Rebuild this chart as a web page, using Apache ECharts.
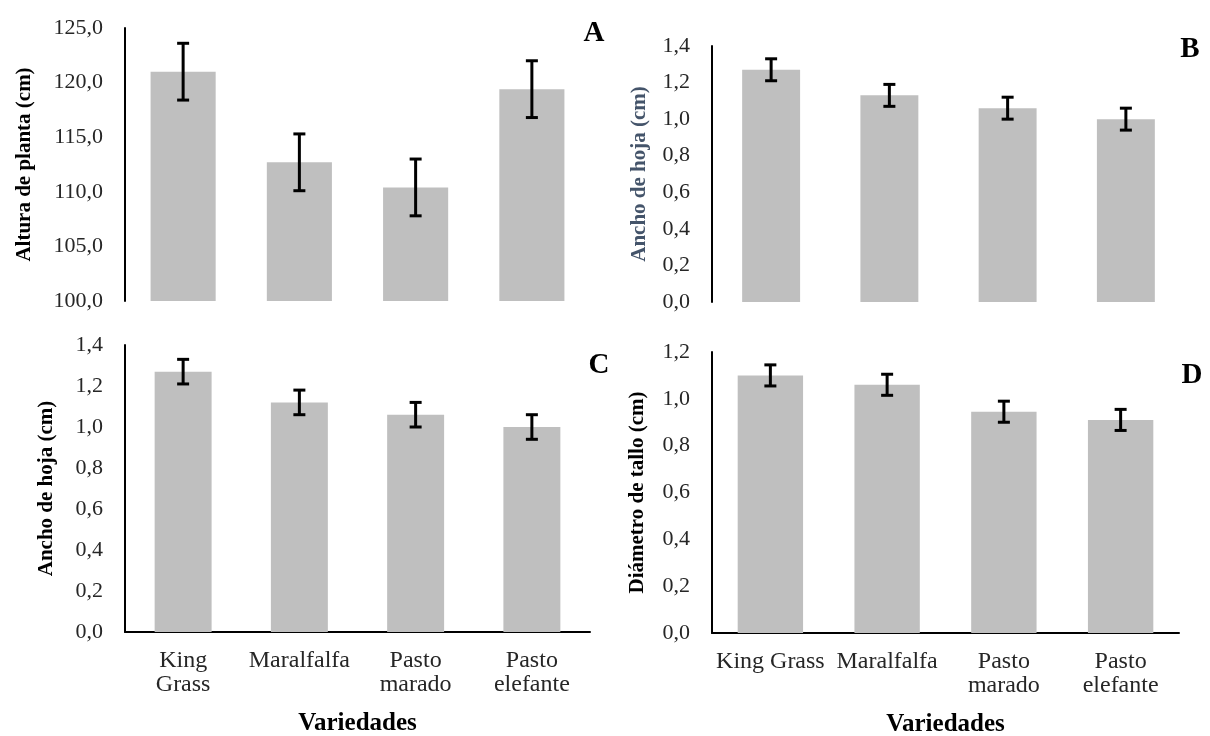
<!DOCTYPE html>
<html>
<head>
<meta charset="utf-8">
<script src="https://cdn.jsdelivr.net/npm/echarts@6/dist/echarts.min.js"></script>
<style>
html,body{margin:0;padding:0;background:#fff;}
#chart{width:1210px;height:736px;}
</style>
</head>
<body>
<div id="chart"></div>
<script>
// ---- data ----
var categoriesTop = ['King Grass', 'Maralfalfa', 'Pasto marado', 'Pasto elefante'];
var categoriesC = ['King\nGrass', 'Maralfalfa', 'Pasto\nmarado', 'Pasto\nelefante'];
var categoriesD = ['King Grass', 'Maralfalfa', 'Pasto\nmarado', 'Pasto\nelefante'];

var alturaPlanta = [121.0, 112.7, 110.4, 119.4];
var alturaPlantaErr = [2.6, 2.6, 2.6, 2.6];

var anchoHojaB = [1.27, 1.13, 1.06, 1.00];
var anchoHojaBErr = [0.06, 0.06, 0.06, 0.06];

var anchoHojaC = [1.27, 1.12, 1.06, 1.00];
var anchoHojaCErr = [0.06, 0.06, 0.06, 0.06];

var diametroTallo = [1.10, 1.06, 0.945, 0.91];
var diametroTalloErr = [0.045, 0.045, 0.045, 0.045];

var yTitles = ['Altura de planta (cm)', 'Ancho de hoja (cm)', 'Ancho de hoja (cm)', 'Diámetro de tallo (cm)'];
var panelLetters = ['A', 'B', 'C', 'D'];
var xTitle = 'Variedades';

// ---- chart ----
var FONT = 'Liberation Serif';
var chart = echarts.init(document.getElementById('chart'), null, {renderer: 'canvas'});

function fmt(v) { return v.toFixed(1).replace('.', ','); }

function errSeries(idx, vals, errs) {
  return {
    type: 'custom',
    xAxisIndex: idx, yAxisIndex: idx,
    data: vals.map(function (v, i) { return [i, v - errs[i], v + errs[i]]; }),
    renderItem: function (params, api) {
      var lo = api.coord([api.value(0), api.value(1)]);
      var hi = api.coord([api.value(0), api.value(2)]);
      var w = 6;
      var st = {stroke: '#000', lineWidth: 3};
      return {
        type: 'group',
        children: [
          {type: 'line', shape: {x1: hi[0], y1: hi[1], x2: lo[0], y2: lo[1]}, style: st},
          {type: 'line', shape: {x1: hi[0] - w, y1: hi[1], x2: hi[0] + w, y2: hi[1]}, style: st},
          {type: 'line', shape: {x1: lo[0] - w, y1: lo[1], x2: lo[0] + w, y2: lo[1]}, style: st}
        ]
      };
    },
    z: 5
  };
}

function barSeries(idx, vals, bw) {
  return {
    type: 'bar', xAxisIndex: idx, yAxisIndex: idx,
    data: vals, barWidth: bw,
    itemStyle: {color: '#bfbfbf'},
    silent: true
  };
}

var grids = [
  {left: 125, top: 28, width: 465, height: 273, outerBoundsMode: 'none', containLabel: false},
  {left: 712, top: 46, width: 473, height: 256, outerBoundsMode: 'none', containLabel: false},
  {left: 125, top: 345, width: 465, height: 287, outerBoundsMode: 'none', containLabel: false},
  {left: 712, top: 352, width: 467, height: 281, outerBoundsMode: 'none', containLabel: false}
];

function yAxis(idx, min, max, interval, nameGap, nameColor) {
  return {
    type: 'value', gridIndex: idx, min: min, max: max, interval: interval,
    splitLine: {show: false},
    axisTick: {show: false},
    axisLine: {show: true, lineStyle: {color: '#000', width: 2}},
    axisLabel: {formatter: fmt, fontFamily: FONT, fontSize: 22, color: '#262626', margin: 22},
    name: yTitles[idx], nameLocation: 'middle', nameGap: nameGap, nameRotate: 90,
    nameTextStyle: {fontFamily: FONT, fontWeight: 'bold', fontSize: 21, color: nameColor || '#000'}
  };
}

function xAxis(idx, cats, showAxis) {
  return {
    type: 'category', gridIndex: idx, data: cats,
    axisTick: {show: false},
    axisLine: {show: showAxis, lineStyle: {color: '#000', width: 2}},
    axisLabel: {show: showAxis, interval: 0, fontFamily: FONT, fontSize: 24, color: '#262626', margin: 17, lineHeight: 24},
    name: showAxis ? xTitle : '', nameLocation: 'middle', nameGap: 79,
    nameTextStyle: {fontFamily: FONT, fontWeight: 'bold', fontSize: 25, color: '#000'}
  };
}

var letterPos = [[594, 34], [1190, 50], [599, 366], [1192, 376]];

chart.setOption({
  animation: false,
  grid: grids,
  xAxis: [
    xAxis(0, categoriesTop, false),
    xAxis(1, categoriesTop, false),
    xAxis(2, categoriesC, true),
    xAxis(3, categoriesD, true)
  ],
  yAxis: [
    yAxis(0, 100, 125, 5, 90),
    yAxis(1, 0, 1.4, 0.2, 62, '#44546a'),
    yAxis(2, 0, 1.4, 0.2, 68),
    yAxis(3, 0, 1.2, 0.2, 64)
  ],
  series: [
    barSeries(0, alturaPlanta, '56%'), errSeries(0, alturaPlanta, alturaPlantaErr),
    barSeries(1, anchoHojaB, '49%'), errSeries(1, anchoHojaB, anchoHojaBErr),
    barSeries(2, anchoHojaC, '49%'), errSeries(2, anchoHojaC, anchoHojaCErr),
    barSeries(3, diametroTallo, '56%'), errSeries(3, diametroTallo, diametroTalloErr)
  ],
  graphic: panelLetters.map(function (t, i) {
    return {
      type: 'text', x: letterPos[i][0], y: letterPos[i][1],
      style: {text: t, fontFamily: FONT, fontWeight: 'bold', fontSize: 29, fill: '#000', align: 'center', verticalAlign: 'middle'}
    };
  })
});
</script>
</body>
</html>
